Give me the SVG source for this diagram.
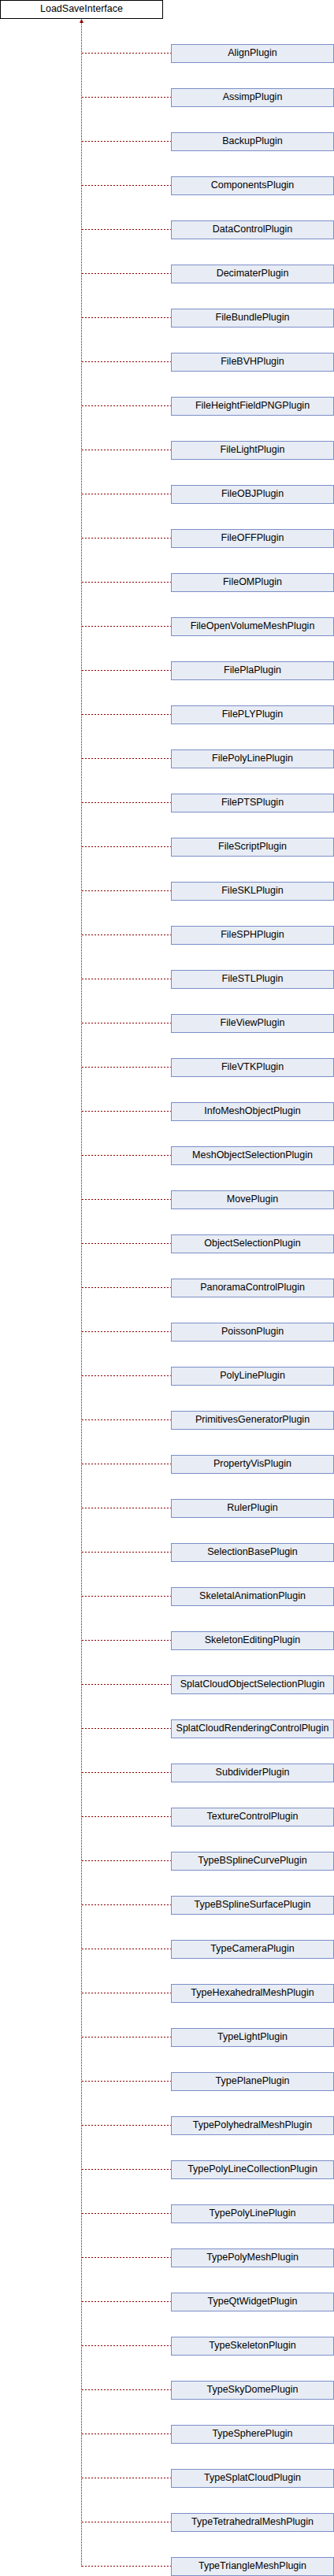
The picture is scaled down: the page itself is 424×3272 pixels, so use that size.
<svg xmlns="http://www.w3.org/2000/svg" width="424" height="3272" viewBox="0 0 424 3272">
<style>
.root{fill:#ffffff;stroke:#000000;stroke-width:1}
.box{fill:#e8ecf4;stroke:#7b8fc8;stroke-width:1}
text{font-family:"Liberation Sans",Arial,sans-serif;font-size:12.5px;fill:#000000;text-anchor:middle}
.v{stroke:#8b0000;stroke-width:1;fill:none;stroke-dasharray:1,1}
.h{stroke:#8b0000;stroke-width:1;fill:none;stroke-dasharray:2,2}
</style>
<g id="connectors">
<path class="v" d="M103.5,29V3260"/>
<polygon points="103.5,24 101,29 106,29" fill="#8b0000"/>
<path class="h" d="M104,67.5H217M104,123.5H217M104,179.5H217M104,235.5H217M104,291.5H217M104,347.5H217M104,403.5H217M104,459.5H217M104,515.5H217M104,571.5H217M104,627.5H217M104,683.5H217M104,739.5H217M104,795.5H217M104,851.5H217M104,907.5H217M104,963.5H217M104,1019.5H217M104,1075.5H217M104,1131.5H217M104,1187.5H217M104,1243.5H217M104,1299.5H217M104,1355.5H217M104,1411.5H217M104,1467.5H217M104,1523.5H217M104,1579.5H217M104,1635.5H217M104,1691.5H217M104,1747.5H217M104,1803.5H217M104,1859.5H217M104,1915.5H217M104,1971.5H217M104,2027.5H217M104,2083.5H217M104,2139.5H217M104,2195.5H217M104,2251.5H217M104,2307.5H217M104,2363.5H217M104,2419.5H217M104,2475.5H217M104,2531.5H217M104,2587.5H217M104,2643.5H217M104,2699.5H217M104,2755.5H217M104,2811.5H217M104,2867.5H217M104,2923.5H217M104,2979.5H217M104,3035.5H217M104,3091.5H217M104,3147.5H217M104,3203.5H217M104,3259.5H217"/>
</g>
<g id="LoadSaveInterface"><rect class="root" x="0.5" y="0.5" width="206" height="23"/><text x="103.5" y="15">LoadSaveInterface</text></g>
<g id="n1"><rect class="box" x="217.5" y="56.5" width="206" height="23"/><text x="320.5" y="71">AlignPlugin</text></g>
<g id="n2"><rect class="box" x="217.5" y="112.5" width="206" height="23"/><text x="320.5" y="127">AssimpPlugin</text></g>
<g id="n3"><rect class="box" x="217.5" y="168.5" width="206" height="23"/><text x="320.5" y="183">BackupPlugin</text></g>
<g id="n4"><rect class="box" x="217.5" y="224.5" width="206" height="23"/><text x="320.5" y="239">ComponentsPlugin</text></g>
<g id="n5"><rect class="box" x="217.5" y="280.5" width="206" height="23"/><text x="320.5" y="295">DataControlPlugin</text></g>
<g id="n6"><rect class="box" x="217.5" y="336.5" width="206" height="23"/><text x="320.5" y="351">DecimaterPlugin</text></g>
<g id="n7"><rect class="box" x="217.5" y="392.5" width="206" height="23"/><text x="320.5" y="407">FileBundlePlugin</text></g>
<g id="n8"><rect class="box" x="217.5" y="448.5" width="206" height="23"/><text x="320.5" y="463">FileBVHPlugin</text></g>
<g id="n9"><rect class="box" x="217.5" y="504.5" width="206" height="23"/><text x="320.5" y="519">FileHeightFieldPNGPlugin</text></g>
<g id="n10"><rect class="box" x="217.5" y="560.5" width="206" height="23"/><text x="320.5" y="575">FileLightPlugin</text></g>
<g id="n11"><rect class="box" x="217.5" y="616.5" width="206" height="23"/><text x="320.5" y="631">FileOBJPlugin</text></g>
<g id="n12"><rect class="box" x="217.5" y="672.5" width="206" height="23"/><text x="320.5" y="687">FileOFFPlugin</text></g>
<g id="n13"><rect class="box" x="217.5" y="728.5" width="206" height="23"/><text x="320.5" y="743">FileOMPlugin</text></g>
<g id="n14"><rect class="box" x="217.5" y="784.5" width="206" height="23"/><text x="320.5" y="799">FileOpenVolumeMeshPlugin</text></g>
<g id="n15"><rect class="box" x="217.5" y="840.5" width="206" height="23"/><text x="320.5" y="855">FilePlaPlugin</text></g>
<g id="n16"><rect class="box" x="217.5" y="896.5" width="206" height="23"/><text x="320.5" y="911">FilePLYPlugin</text></g>
<g id="n17"><rect class="box" x="217.5" y="952.5" width="206" height="23"/><text x="320.5" y="967">FilePolyLinePlugin</text></g>
<g id="n18"><rect class="box" x="217.5" y="1008.5" width="206" height="23"/><text x="320.5" y="1023">FilePTSPlugin</text></g>
<g id="n19"><rect class="box" x="217.5" y="1064.5" width="206" height="23"/><text x="320.5" y="1079">FileScriptPlugin</text></g>
<g id="n20"><rect class="box" x="217.5" y="1120.5" width="206" height="23"/><text x="320.5" y="1135">FileSKLPlugin</text></g>
<g id="n21"><rect class="box" x="217.5" y="1176.5" width="206" height="23"/><text x="320.5" y="1191">FileSPHPlugin</text></g>
<g id="n22"><rect class="box" x="217.5" y="1232.5" width="206" height="23"/><text x="320.5" y="1247">FileSTLPlugin</text></g>
<g id="n23"><rect class="box" x="217.5" y="1288.5" width="206" height="23"/><text x="320.5" y="1303">FileViewPlugin</text></g>
<g id="n24"><rect class="box" x="217.5" y="1344.5" width="206" height="23"/><text x="320.5" y="1359">FileVTKPlugin</text></g>
<g id="n25"><rect class="box" x="217.5" y="1400.5" width="206" height="23"/><text x="320.5" y="1415">InfoMeshObjectPlugin</text></g>
<g id="n26"><rect class="box" x="217.5" y="1456.5" width="206" height="23"/><text x="320.5" y="1471">MeshObjectSelectionPlugin</text></g>
<g id="n27"><rect class="box" x="217.5" y="1512.5" width="206" height="23"/><text x="320.5" y="1527">MovePlugin</text></g>
<g id="n28"><rect class="box" x="217.5" y="1568.5" width="206" height="23"/><text x="320.5" y="1583">ObjectSelectionPlugin</text></g>
<g id="n29"><rect class="box" x="217.5" y="1624.5" width="206" height="23"/><text x="320.5" y="1639">PanoramaControlPlugin</text></g>
<g id="n30"><rect class="box" x="217.5" y="1680.5" width="206" height="23"/><text x="320.5" y="1695">PoissonPlugin</text></g>
<g id="n31"><rect class="box" x="217.5" y="1736.5" width="206" height="23"/><text x="320.5" y="1751">PolyLinePlugin</text></g>
<g id="n32"><rect class="box" x="217.5" y="1792.5" width="206" height="23"/><text x="320.5" y="1807">PrimitivesGeneratorPlugin</text></g>
<g id="n33"><rect class="box" x="217.5" y="1848.5" width="206" height="23"/><text x="320.5" y="1863">PropertyVisPlugin</text></g>
<g id="n34"><rect class="box" x="217.5" y="1904.5" width="206" height="23"/><text x="320.5" y="1919">RulerPlugin</text></g>
<g id="n35"><rect class="box" x="217.5" y="1960.5" width="206" height="23"/><text x="320.5" y="1975">SelectionBasePlugin</text></g>
<g id="n36"><rect class="box" x="217.5" y="2016.5" width="206" height="23"/><text x="320.5" y="2031">SkeletalAnimationPlugin</text></g>
<g id="n37"><rect class="box" x="217.5" y="2072.5" width="206" height="23"/><text x="320.5" y="2087">SkeletonEditingPlugin</text></g>
<g id="n38"><rect class="box" x="217.5" y="2128.5" width="206" height="23"/><text x="320.5" y="2143">SplatCloudObjectSelectionPlugin</text></g>
<g id="n39"><rect class="box" x="217.5" y="2184.5" width="206" height="23"/><text x="320.5" y="2199">SplatCloudRenderingControlPlugin</text></g>
<g id="n40"><rect class="box" x="217.5" y="2240.5" width="206" height="23"/><text x="320.5" y="2255">SubdividerPlugin</text></g>
<g id="n41"><rect class="box" x="217.5" y="2296.5" width="206" height="23"/><text x="320.5" y="2311">TextureControlPlugin</text></g>
<g id="n42"><rect class="box" x="217.5" y="2352.5" width="206" height="23"/><text x="320.5" y="2367">TypeBSplineCurvePlugin</text></g>
<g id="n43"><rect class="box" x="217.5" y="2408.5" width="206" height="23"/><text x="320.5" y="2423">TypeBSplineSurfacePlugin</text></g>
<g id="n44"><rect class="box" x="217.5" y="2464.5" width="206" height="23"/><text x="320.5" y="2479">TypeCameraPlugin</text></g>
<g id="n45"><rect class="box" x="217.5" y="2520.5" width="206" height="23"/><text x="320.5" y="2535">TypeHexahedralMeshPlugin</text></g>
<g id="n46"><rect class="box" x="217.5" y="2576.5" width="206" height="23"/><text x="320.5" y="2591">TypeLightPlugin</text></g>
<g id="n47"><rect class="box" x="217.5" y="2632.5" width="206" height="23"/><text x="320.5" y="2647">TypePlanePlugin</text></g>
<g id="n48"><rect class="box" x="217.5" y="2688.5" width="206" height="23"/><text x="320.5" y="2703">TypePolyhedralMeshPlugin</text></g>
<g id="n49"><rect class="box" x="217.5" y="2744.5" width="206" height="23"/><text x="320.5" y="2759">TypePolyLineCollectionPlugin</text></g>
<g id="n50"><rect class="box" x="217.5" y="2800.5" width="206" height="23"/><text x="320.5" y="2815">TypePolyLinePlugin</text></g>
<g id="n51"><rect class="box" x="217.5" y="2856.5" width="206" height="23"/><text x="320.5" y="2871">TypePolyMeshPlugin</text></g>
<g id="n52"><rect class="box" x="217.5" y="2912.5" width="206" height="23"/><text x="320.5" y="2927">TypeQtWidgetPlugin</text></g>
<g id="n53"><rect class="box" x="217.5" y="2968.5" width="206" height="23"/><text x="320.5" y="2983">TypeSkeletonPlugin</text></g>
<g id="n54"><rect class="box" x="217.5" y="3024.5" width="206" height="23"/><text x="320.5" y="3039">TypeSkyDomePlugin</text></g>
<g id="n55"><rect class="box" x="217.5" y="3080.5" width="206" height="23"/><text x="320.5" y="3095">TypeSpherePlugin</text></g>
<g id="n56"><rect class="box" x="217.5" y="3136.5" width="206" height="23"/><text x="320.5" y="3151">TypeSplatCloudPlugin</text></g>
<g id="n57"><rect class="box" x="217.5" y="3192.5" width="206" height="23"/><text x="320.5" y="3207">TypeTetrahedralMeshPlugin</text></g>
<g id="n58"><rect class="box" x="217.5" y="3248.5" width="206" height="23"/><text x="320.5" y="3263">TypeTriangleMeshPlugin</text></g>
</svg>
